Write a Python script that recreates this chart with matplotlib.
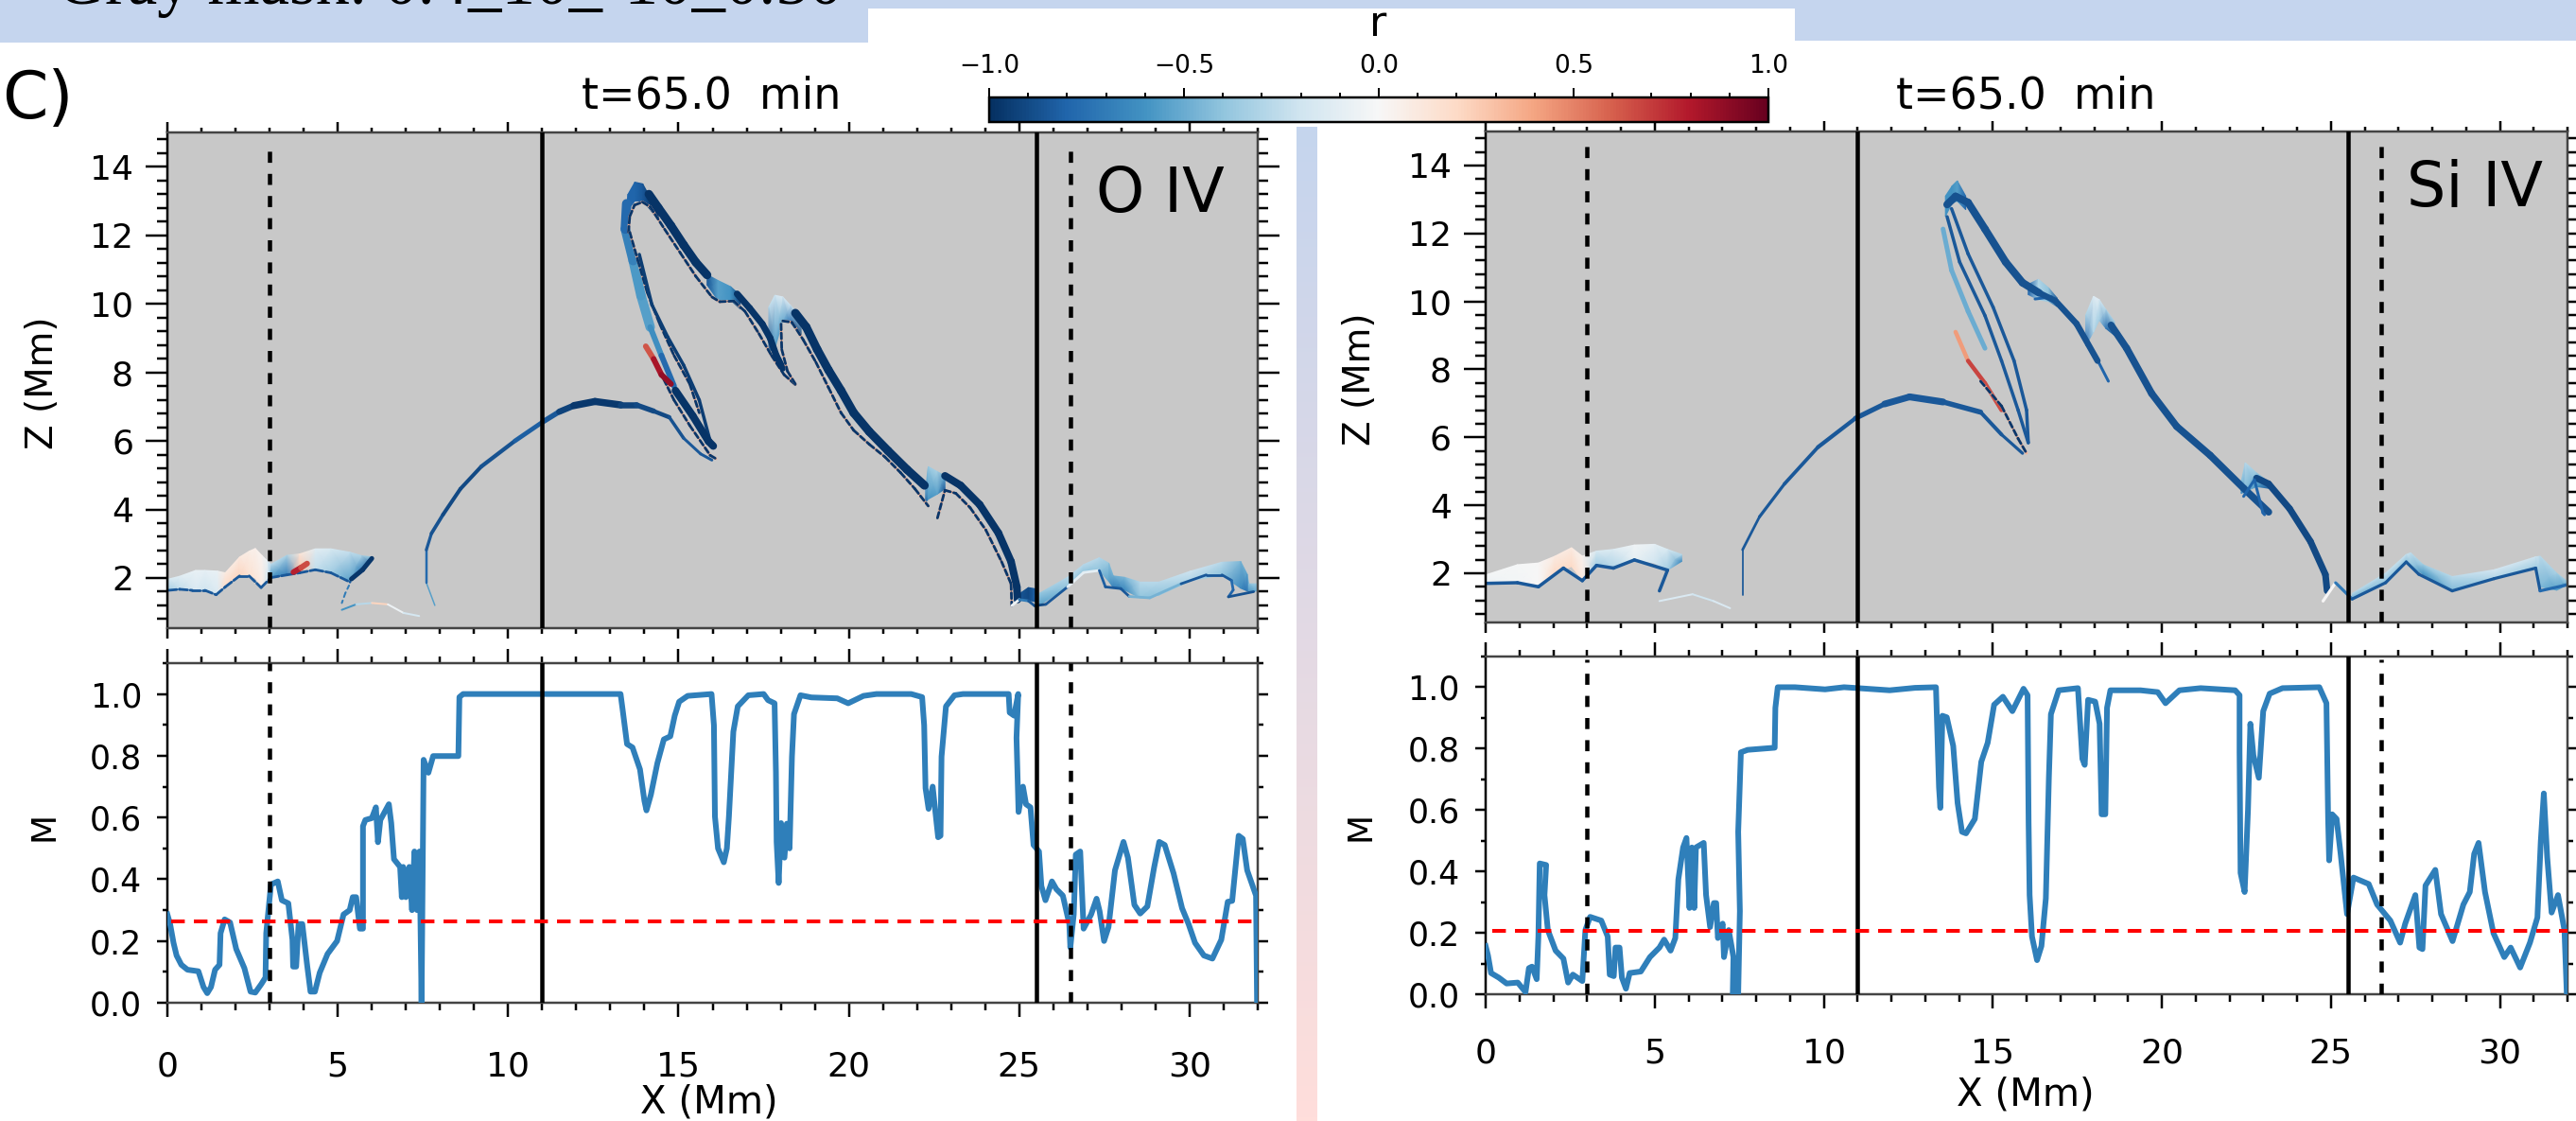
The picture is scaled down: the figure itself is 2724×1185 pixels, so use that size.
import numpy as np
import matplotlib
matplotlib.use('Agg')
import matplotlib.pyplot as plt
from matplotlib.cm import ScalarMappable
from matplotlib.collections import LineCollection
from matplotlib.colors import LinearSegmentedColormap, Normalize
from matplotlib.patches import Rectangle
from matplotlib.ticker import MultipleLocator

W, H = 2724, 1185
BLUE = '#c5d5ee'
GRAY = '#c8c8c8'
LINE = '#2f7fba'

# M curves, bottom panels
o4_m_x = [0, .08, .18, .27, .41, .59, .91, 1.06, 1.17, 1.28, 1.40, 1.53, 1.56, 1.68, 1.84, 2.02, 2.26, 2.44, 2.58, 2.76,
          2.88, 2.90, 3.04, 3.24, 3.36, 3.55, 3.67, 3.69, 3.78, 3.85, 3.96, 4.1, 4.2, 4.33, 4.47, 4.70, 4.98, 5.17, 5.35,
          5.44, 5.54, 5.65, 5.74, 5.74, 5.81, 6.0, 6.12, 6.18, 6.25, 6.5, 6.57, 6.65, 6.83, 6.88, 6.92, 7.0, 7.1, 7.18,
          7.25, 7.33, 7.4, 7.46, 7.52, 7.66, 7.8, 8.54, 8.57, 8.68, 13.30, 13.36, 13.49, 13.65, 13.87, 14.0, 14.06, 14.19,
          14.38, 14.57, 14.76, 14.89, 15.02, 15.27, 15.97, 16.04, 16.07, 16.16, 16.33, 16.42, 16.48, 16.61, 16.74, 17.05,
          17.5, 17.63, 17.82, 17.86, 17.88, 17.94, 18.01, 18.11, 18.18, 18.26, 18.33, 18.39, 18.58, 18.9, 19.66, 19.98,
          20.43, 20.81, 21.83, 22.15, 22.21, 22.25, 22.34, 22.46, 22.62, 22.69, 22.72, 22.85, 23.1, 23.35, 24.69, 24.72,
          24.85, 24.97, 24.92, 24.98, 25.11, 25.2, 25.33, 25.42, 25.58, 25.65, 25.77, 25.96, 26.09, 26.28, 26.47, 26.5,
          26.6, 26.66, 26.79, 26.89, 27.11, 27.27, 27.36, 27.49, 27.62, 27.81, 28.06, 28.19, 28.38, 28.55, 28.76, 28.96,
          29.11, 29.27, 29.53, 29.78, 29.97, 30.16, 30.42, 30.67, 30.93, 31.12, 31.25, 31.44, 31.56, 31.69, 31.95, 31.98]
o4_m_y = [.286, .255, .194, .153, .123, .107, .102, .051, .031, .051, .107, .123, .225, .27, .26, .174, .112, .036, .033,
          .061, .082, .225, .383, .393, .332, .322, .204, .117, .117, .255, .255, .123, .036, .036, .097, .158, .2, .286,
          .30, .342, .342, .24, .24, .572, .592, .598, .633, .52, .592, .643, .582, .465, .44, .342, .44, .342, .44, .30,
          .49, .30, .49, .0, .787, .745, .799, .799, .99, 1.0, 1.0, .95, .838, .827, .756, .654, .623, .674, .776, .853,
          .863, .93, .975, .994, 1.0, .899, .603, .50, .455, .50, .603, .878, .96, .996, 1.0, .98, .97, .746, .521, .388,
          .582, .47, .58, .50, .797, .935, .996, .989, .986, .97, .994, 1.0, 1.0, .99, .899, .695, .628, .70, .536, .541,
          .797, .96, .996, 1.0, 1.0, .94, .93, 1.0, .858, .618, .70, .643, .633, .511, .49, .378, .332, .393, .368, .347,
          .255, .179, .286, .48, .49, .24, .286, .337, .296, .2, .245, .429, .521, .47, .317, .289, .312, .439, .521, .511,
          .419, .306, .255, .194, .153, .143, .204, .327, .33, .541, .531, .429, .347, 0]

si4_m_x = [0, .07, .16, .39, .62, .95, 1.18, 1.28, 1.37, 1.51, 1.56, 1.60, 1.79, 1.74, 1.84, 2.07, 2.3, 2.44, 2.58, 2.86,
           2.95, 3.09, 3.42, 3.61, 3.67, 3.79, 3.84, 3.96, 4.03, 4.15, 4.26, 4.59, 4.86, 5.14, 5.28, 5.47, 5.61, 5.7, 5.84,
           5.94, 6.03, 6.1, 6.17, 6.22, 6.45, 6.52, 6.64, 6.75, 6.82, 6.87, 7.01, 7.05, 7.19, 7.33, 7.31, 7.47, 7.52, 7.47,
           7.55, 7.75, 8.55, 8.57, 8.64, 9.15, 10.04, 10.6, 11.02, 11.95, 12.7, 13.32, 13.41, 13.45, 13.51, 13.64, 13.83,
           13.96, 14.09, 14.21, 14.47, 14.66, 14.85, 15.04, 15.3, 15.58, 15.91, 16.03, 16.06, 16.09, 16.16, 16.31, 16.44,
           16.57, 16.66, 16.72, 16.95, 17.52, 17.65, 17.72, 17.82, 18.03, 18.16, 18.22, 18.33, 18.38, 18.48, 19.37, 19.88,
           20.11, 20.52, 21.15, 22.17, 22.3, 22.3, 22.33, 22.45, 22.55, 22.62, 22.71, 22.87, 23.0, 23.19, 23.57, 24.66,
           24.87, 24.92, 24.95, 25.04, 25.17, 25.29, 25.48, 25.67, 26.12, 26.37, 26.76, 27.05, 27.2, 27.5, 27.62, 27.71,
           27.8, 28.09, 28.26, 28.6, 28.92, 29.11, 29.24, 29.37, 29.56, 29.81, 30.13, 30.32, 30.6, 30.89, 31.11, 31.21,
           31.3, 31.4, 31.53, 31.72, 31.91, 31.98]
si4_m_y = [.157, .126, .069, .054, .035, .038, .007, .085, .09, .049, .188, .426, .421, .323, .209, .142, .116, .038, .064,
           .043, .209, .252, .24, .188, .064, .059, .152, .152, .054, .018, .069, .074, .121, .152, .178, .142, .183, .374,
           .478, .509, .281, .478, .281, .478, .493, .323, .219, .297, .297, .183, .23, .121, .209, .121, .002, 0, .271,
           .529, .788, .796, .803, .933, 1.0, 1.0, .993, 1.0, .997, .99, .998, 1.0, .674, .607, .907, .902, .809, .623, .529,
           .524, .571, .757, .819, .943, .969, .922, .995, .974, .56, .323, .188, .111, .157, .312, .705, .912, .99, .997,
           .767, .747, .959, .953, .881, .586, .586, .933, .99, .99, .984, .948, .99, .997, .99, .974, .788, .395, .333, .602,
           .881, .778, .705, .922, .979, .997, 1.0, .948, .571, .436, .586, .571, .457, .261, .38, .359, .292, .24, .168,
           .23, .323, .152, .147, .354, .405, .261, .173, .292, .333, .457, .493, .333, .199, .121, .152, .087, .168, .25,
           .498, .654, .447, .266, .323, .209, 0]

o4_threshold = 0.264
si4_threshold = 0.206
solid_x = [11.0, 25.5]
dashed_x = [3.0, 26.5]

# O IV strands: x, z (Mm) and r
o4_loop_light_x = [14.17, 13.9, 13.67, 13.44, 13.48]
o4_loop_light_z = [9.32, 10.24, 11.26, 12.18, 12.92]
o4_loop_light_r = [-.55, -.55, -.6, -.75, -.8]
o4_low_blue_x = [14.17, 14.5, 14.87]
o4_low_blue_z = [9.32, 8.49, 7.6]
o4_low_blue_r = [-.55, -.7, -.85]
o4_top_x = [14.13, 14.41, 14.78, 15.15, 15.51, 15.84]
o4_top_z = [13.2, 12.8, 12.28, 11.72, 11.21, 10.84]
o4_inner_x = [13.53, 13.57, 13.71, 13.94, 14.17, 14.59, 15.05, 15.51, 15.98, 16.21, 16.62, 16.95, 17.36, 17.73, 18.1, 18.43]
o4_inner_z = [12.09, 12.55, 12.88, 12.97, 12.83, 12.18, 11.49, 10.8, 10.2, 10.06, 10.08, 9.78, 9.13, 8.49, 7.93, 7.64]
o4_left_x = [13.57, 13.81, 14.08, 14.45, 14.87, 15.33, 15.61]
o4_left_z = [12.09, 11.26, 10.34, 9.41, 8.49, 7.66, 6.82]
o4_left2_x = [13.85, 14.22, 14.68, 15.15, 15.61, 15.93]
o4_left2_z = [11.44, 9.97, 9.04, 8.21, 7.19, 5.99]
o4_red_x = [14.04, 14.27, 14.5, 14.78]
o4_red_z = [8.76, 8.39, 7.93, 7.66]
o4_red_r = [.5, .75, .9, .85]
o4_wedge_x = [14.91, 15.42, 15.88, 16.02]
o4_wedge_z = [7.47, 6.73, 5.99, 5.85]
o4_wedge2_x = [14.45, 14.87, 15.33, 15.93, 16.1]
o4_wedge2_z = [8.03, 7.19, 6.45, 5.58, 5.48]
o4_arc_x = [7.85, 7.6, 7.6, 7.75, 8.09, 8.6, 9.21, 10.2, 11.01, 11.5, 11.93, 12.55, 13.3, 13.76, 14.27, 14.73, 15.15, 15.65, 15.98]
o4_arc_z = [1.2, 1.86, 2.82, 3.3, 3.85, 4.6, 5.25, 6.0, 6.55, 6.85, 7.03, 7.15, 7.05, 7.05, 6.87, 6.69, 6.08, 5.62, 5.44]
o4_arc_r = [-.4, -.7, -.85, -.85, -.9, -.9, -.9, -.85, -.8, -.9, -.95, -.98, -.95, -.9, -.9, -.9, -.85, -.85, -.85]
o4_arc_w = [1, 2, 3, 3.5, 4, 4, 4, 4.5, 5, 6, 7, 8, 7, 6, 5, 4, 3, 3, 3]
o4_shoulder_x = [16.72, 17.09, 17.46, 17.69, 17.87, 18.06]
o4_shoulder_z = [10.29, 9.87, 9.41, 9.0, 8.49, 8.12]
o4_desc_x = [18.43, 18.75, 19.07, 19.4, 19.77, 20.14, 20.6, 21.15, 21.71, 22.22]
o4_desc_z = [9.73, 9.32, 8.67, 8.07, 7.47, 6.82, 6.27, 5.71, 5.16, 4.7]
o4_in2_x = [18.06, 18.33, 18.66, 19.03, 19.4, 19.77, 20.14, 20.6, 21.06, 21.52, 21.94, 22.33]
o4_in2_z = [9.5, 9.46, 8.95, 8.3, 7.56, 6.82, 6.31, 5.9, 5.53, 5.07, 4.6, 4.1]
o4_in3_x = [22.6, 22.82, 23.14, 23.56, 24.02, 24.48, 24.76, 24.78]
o4_in3_z = [3.75, 4.56, 4.47, 4.05, 3.4, 2.48, 1.83, 1.19]
o4_ret_x = [18.01, 18.03, 18.2, 18.43]
o4_ret_z = [9.41, 8.67, 8.03, 7.66]
o4_desc2_x = [22.82, 23.28, 23.84, 24.39, 24.76, 24.93, 24.95]
o4_desc2_z = [4.98, 4.7, 4.14, 3.31, 2.48, 1.74, 1.37]
o4_foot_x = [24.78, 25.0, 25.27, 25.45, 25.78, 26.42, 26.89, 27.35, 27.53, 27.98, 28.23, 28.83, 29.75, 30.49, 30.95, 31.23, 31.28, 31.14, 31.88]
o4_foot_z = [1.19, 1.37, 1.33, 1.19, 1.23, 1.74, 2.16, 2.22, 1.74, 1.69, 1.46, 1.42, 1.83, 2.09, 2.09, 1.93, 1.65, 1.45, 1.6]
o4_foot_r = [.5, -.6, -.8, -.9, -.9, -.8, .6, -.8, -.85, -.85, -.85, -.1, -.85, -.85, -.85, -.85, -.7, -.9, -.85]
o4_chromo_x = [.04, .36, .73, 1.1, 1.43, 1.7, 2.12, 2.4, 2.75, 3.04, 3.51, 3.88, 4.34, 4.8, 5.36]
o4_chromo_z = [1.64, 1.67, 1.64, 1.64, 1.51, 1.74, 2.06, 2.06, 1.72, 2.01, 2.09, 2.15, 2.24, 2.15, 1.88]
o4_hot_x = [3.7, 3.92, 4.1]
o4_hot_z = [2.17, 2.3, 2.42]
o4_hot_r = [.75, .8, .5]
o4_spike_x = [5.4, 5.73, 6.0]
o4_spike_z = [1.97, 2.24, 2.57]
o4_stem_x = [5.33, 5.22, 5.12]
o4_stem_z = [1.78, 1.55, 1.27]
o4_lowarc_x = [5.12, 5.54, 6.0, 6.47, 6.93, 7.39]
o4_lowarc_z = [1.07, 1.23, 1.27, 1.23, .98, .89]
o4_lowarc_r = [-.7, -.5, -.05, .5, -.6, .25]

# O IV sheets: x stations, lower and upper z, r
o4_glow_x = [.04, .36, .83, 1.1, 1.47, 1.7, 2.12, 2.4, 2.58, 2.77, 2.95, 3.04, 3.51, 3.88, 4.34, 4.8, 5.36, 5.7, 6.0]
o4_glow_lo = [1.64, 1.67, 1.64, 1.64, 1.51, 1.74, 2.06, 2.06, 2.0, 1.72, 1.95, 2.01, 2.09, 2.15, 2.24, 2.15, 1.88, 2.24, 2.57]
o4_glow_hi = [1.97, 2.05, 2.22, 2.22, 2.2, 2.15, 2.61, 2.78, 2.86, 2.66, 2.48, 2.4, 2.66, 2.7, 2.85, 2.85, 2.75, 2.65, 2.61]
o4_glow_r = [-.35, -.25, -.15, -.2, -.15, .2, .22, .15, .12, .08, -.2, -.6, -.7, .3, -.25, -.35, -.55, -.7, -.9]
o4_band_x = [25.59, 26.42, 26.89, 27.35, 27.63, 27.76, 28.09, 28.55, 29.1, 30.03, 30.95, 31.5, 31.69, 31.74, 31.97]
o4_band_lo = [1.2, 1.74, 2.16, 2.22, 1.9, 1.72, 1.65, 1.42, 1.5, 1.92, 2.09, 1.7, 1.62, 1.6, 1.62]
o4_band_hi = [1.55, 2.02, 2.39, 2.59, 2.43, 2.06, 2.02, 1.88, 1.88, 2.2, 2.46, 2.48, 2.11, 1.83, 1.83]
o4_band_r = [-.55, -.4, -.4, -.4, -.55, -.7, -.65, -.4, -.4, -.3, -.4, -.65, -.75, -.6, -.5]
o4_foot_pool_x = [24.95, 25.27, 25.5]
o4_foot_pool_lo = [1.35, 1.35, 1.3]
o4_foot_pool_hi = [1.5, 1.72, 1.68]
o4_foot_pool_r = [-.85, -.9, -.8]
o4_crown_x = [13.44, 13.52, 13.72, 13.95, 14.17, 14.41]
o4_crown_lo = [12.2, 12.75, 13.0, 13.0, 12.75, 12.45]
o4_crown_hi = [12.4, 13.2, 13.55, 13.5, 13.1, 12.9]
o4_crown_r = [-.8, -.8, -.8, -.85, -.95, -.98]
o4_swell_x = [15.84, 16.16, 16.53, 16.81]
o4_swell_lo = [10.55, 10.1, 10.1, 9.85]
o4_swell_hi = [10.85, 10.68, 10.5, 10.25]
o4_swell_r = [-.85, -.55, -.6, -.9]
o4_hump_x = [17.65, 17.83, 18.06, 18.29, 18.6]
o4_hump_lo = [8.6, 8.7, 9.5, 9.45, 9.05]
o4_hump_hi = [9.9, 10.25, 10.2, 9.95, 9.6]
o4_hump_r = [-.9, -.6, -.5, -.75, -.97]
o4_hump3_x = [22.25, 22.33, 22.6, 22.82]
o4_hump3_lo = [4.2, 4.3, 4.45, 4.6]
o4_hump3_hi = [4.6, 5.25, 5.1, 4.98]
o4_hump3_r = [-.85, -.6, -.55, -.85]

# Si IV strands
si4_outer_x = [13.65, 13.9, 14.27, 14.77, 15.38, 15.88, 16.37]
si4_outer_z = [12.85, 13.09, 12.91, 12.13, 11.16, 10.55, 10.25]
si4_edge_x = [13.53, 13.78, 14.27, 14.77]
si4_edge_z = [12.13, 10.92, 9.71, 8.62]
si4_in1_x = [13.65, 14.02, 14.77, 15.26, 15.75, 16.05]
si4_in1_z = [12.49, 11.16, 9.58, 8.25, 6.8, 5.84]
si4_in2_x = [13.78, 14.27, 15.01, 15.63, 16.0, 16.05]
si4_in2_z = [12.73, 11.4, 9.83, 8.25, 6.8, 5.84]
si4_red_x = [13.9, 14.27, 14.77, 15.26]
si4_red_z = [9.1, 8.25, 7.59, 6.8]
si4_red_r = [.3, .55, .8, .5]
si4_wedge_x = [14.64, 15.26, 15.75, 16.0]
si4_wedge_z = [7.65, 6.92, 5.96, 5.53]
si4_arc_x = [7.6, 7.6, 8.1, 8.84, 9.83, 10.94, 11.8, 12.54, 13.53, 14.64, 15.26, 15.88]
si4_arc_z = [1.36, 2.69, 3.66, 4.63, 5.71, 6.56, 6.98, 7.19, 7.04, 6.74, 6.08, 5.53]
si4_arc_w = [1, 2.5, 3, 3.5, 4, 4.5, 6, 8, 6.5, 4.5, 3.5, 3]
si4_inner_x = [16.25, 16.74, 17.36, 17.98, 18.42]
si4_inner_z = [10.07, 10.13, 9.46, 8.5, 7.65]
si4_shoulder_x = [16.37, 16.86, 17.48, 18.1]
si4_shoulder_z = [10.25, 10.01, 9.34, 8.25]
si4_desc_x = [18.5, 18.96, 19.7, 20.44, 21.43, 22.42, 23.16]
si4_desc_z = [9.3, 8.62, 7.29, 6.32, 5.47, 4.5, 3.8]
si4_desc2_x = [22.8, 23.16, 23.78, 24.4, 24.84, 24.89]
si4_desc2_z = [4.8, 4.63, 3.9, 2.93, 1.96, 1.48]
si4_in3_x = [22.42, 22.74, 22.99, 23.04]
si4_in3_z = [4.26, 4.75, 3.78, 3.72]
si4_foot_x = [24.77, 25.14, 25.63, 26.62, 27.23, 27.6, 28.59, 29.83, 31.06, 31.19, 32.0]
si4_foot_z = [1.18, 1.72, 1.24, 1.72, 2.33, 1.97, 1.48, 1.84, 2.15, 1.48, 1.66]
si4_foot_r = [.6, -.6, -.85, -.85, -.85, -.85, -.85, -.85, -.85, -.85, -.7]
si4_chromo_x = [0, .94, 1.56, 2.3, 2.86, 3.28, 3.78, 4.4, 5.38, 5.14]
si4_chromo_z = [1.7, 1.72, 1.6, 2.15, 1.78, 2.23, 2.15, 2.39, 2.09, 1.48]
si4_lowarc_x = [5.14, 6.12, 6.74, 7.23]
si4_lowarc_z = [1.18, 1.38, 1.18, .97]
si4_lowarc_r = [-.6, .3, -.7, .4]

# Si IV sheets
si4_glow_x = [0, .94, 1.56, 2.05, 2.54, 2.86, 3.28, 3.78, 4.4, 5.0, 5.38, 5.8]
si4_glow_lo = [1.7, 1.72, 1.6, 2.0, 2.2, 1.8, 2.23, 2.15, 2.39, 2.3, 2.09, 2.35]
si4_glow_hi = [1.95, 2.25, 2.3, 2.5, 2.75, 2.5, 2.65, 2.7, 2.83, 2.85, 2.7, 2.55]
si4_glow_r = [-.05, -.03, 0, .2, .2, .1, -.35, -.3, -.08, -.2, -.35, -.65]
si4_band_x = [25.63, 26.62, 27.23, 27.36, 27.73, 28.59, 29.83, 31.06, 31.19, 31.68, 32]
si4_band_lo = [1.24, 1.72, 2.33, 2.2, 1.97, 1.48, 1.84, 2.15, 1.6, 1.5, 1.66]
si4_band_hi = [1.4, 2.0, 2.55, 2.6, 2.25, 1.9, 2.1, 2.48, 2.5, 2.0, 1.75]
si4_band_r = [-.5, -.4, -.4, -.4, -.6, -.45, -.3, -.35, -.45, -.55, -.6]
si4_crown_x = [13.6, 13.8, 13.95, 14.2]
si4_crown_lo = [12.5, 12.9, 12.95, 12.7]
si4_crown_hi = [13.1, 13.4, 13.55, 13.1]
si4_crown_r = [-.6, -.6, -.55, -.8]
si4_swell_x = [16.05, 16.35, 16.65, 16.9]
si4_swell_lo = [10.2, 10.05, 10.0, 9.85]
si4_swell_hi = [10.5, 10.65, 10.4, 10.1]
si4_swell_r = [-.8, -.3, -.4, -.85]
si4_hump_x = [17.75, 17.98, 18.15, 18.35, 18.6]
si4_hump_lo = [8.7, 9.1, 9.45, 9.2, 9.0]
si4_hump_hi = [9.6, 10.15, 10.05, 9.75, 9.4]
si4_hump_r = [-.8, -.3, -.35, -.75, -.87]
si4_hump3_x = [22.35, 22.47, 22.8, 23.15]
si4_hump3_lo = [4.35, 4.4, 4.55, 4.5]
si4_hump3_hi = [4.7, 5.25, 4.95, 4.7]
si4_hump3_r = [-.7, -.45, -.6, -.85]

cmap = plt.get_cmap('RdBu_r')
norm = Normalize(-1, 1)


def fax(x0, y0, x1, y1):
    return fig.add_axes([x0 / W, 1 - y1 / H, (x1 - x0) / W, (y1 - y0) / H])


def pt(px):
    return px * 0.72


def strand(ax, x, z, r, w, **kw):
    # r and w can be one number or one value per point, w is in pixels
    xy = np.column_stack([x, z])
    segs = np.stack([xy[:-1], xy[1:]], axis=1)
    r = np.broadcast_to(r, len(x)).astype(float)
    w = np.broadcast_to(w, len(x)).astype(float)
    lc = LineCollection(segs, colors=cmap(norm((r[:-1] + r[1:]) / 2)), linewidths=pt((w[:-1] + w[1:]) / 2),
                        capstyle='round', **kw)
    ax.add_collection(lc)


def sheet(ax, x, lo, hi, r, fade=1.0):
    # gouraud shaded ribbon between two edges, fade lightens the upper edge
    x = np.asarray(x, float)
    r = np.asarray(r, float)
    X = np.vstack([x, x])
    Z = np.vstack([lo, hi])
    ax.pcolormesh(X, Z, np.vstack([r, r * fade]), shading='gouraud', cmap=cmap, norm=norm)


def thread(ax, x, z, w=2.8):
    # the thin lines are dark with orange bits showing through
    strand(ax, x, z, .35, w)
    strand(ax, x, z, -.97, w, linestyles=[(0, (2.2, 1.2))])


def vlines(ax, top=None):
    for v in solid_x:
        ax.axvline(v, color='k', lw=pt(4.5), zorder=5)
    for v in dashed_x:
        ax.plot([v, v], [ax.get_ylim()[0], top], color='k', lw=pt(4.5), ls=(0, (2.6, 2.6)), zorder=5)


def style(ax, ymaj, ymin, xlen, ylen):
    ax.set_xlim(0, 32)
    ax.xaxis.set_major_locator(MultipleLocator(5))
    ax.xaxis.set_minor_locator(MultipleLocator(1))
    ax.yaxis.set_major_locator(MultipleLocator(ymaj))
    ax.yaxis.set_minor_locator(MultipleLocator(ymin))
    ax.tick_params(which='major', axis='x', top=True, direction='out', length=pt(xlen), width=pt(2.5))
    ax.tick_params(which='minor', axis='x', top=True, direction='out', length=pt(xlen / 2), width=pt(2.5))
    ax.tick_params(which='major', axis='y', right=True, direction='out', length=pt(ylen), width=pt(2.5))
    ax.tick_params(which='minor', axis='y', right=True, direction='out', length=pt(ylen / 2), width=pt(2.5))
    for s in ax.spines.values():
        s.set_linewidth(pt(2.5))
        s.set_color('#444444')
    ax.spines['left'].set_color('k')


def labels(ax, xtext, ytext, xpos, ypos, ysize):
    if xtext:
        ax.set_xlabel(xtext, fontsize=29, va='center', ha='center')
        ax.xaxis.set_label_coords(xpos[0] / W, 1 - xpos[1] / H, transform=fig.transFigure)
    ax.set_ylabel(ytext, fontsize=ysize, va='center', ha='center')
    ax.yaxis.set_label_coords(ypos[0] / W, 1 - ypos[1] / H, transform=fig.transFigure)


fig = plt.figure(figsize=(W / 100, H / 100), dpi=100, facecolor='white')

# slide background around the panels
for x0, x1, y1 in [(0, 918, 45), (918, 1898, 9), (1898, W, 43)]:
    fig.add_artist(Rectangle((x0 / W, 1 - y1 / H), (x1 - x0) / W, y1 / H, transform=fig.transFigure,
                             facecolor=BLUE, edgecolor='none', zorder=-5))
fig.text(60 / W, 1 - 4 / H, 'Gray mask: 0.4_10_-10_0.50', family='Liberation Serif', fontsize=51, va='baseline')

strip = fax(1371, 134, 1393, H)
strip.imshow(np.linspace(0, 1, 256)[:, None], aspect='auto',
             cmap=LinearSegmentedColormap.from_list('strip', [BLUE, '#ffdedb']))
strip.axis('off')

# O IV top panel
ax1 = fax(177, 140, 1330, 663.5)
ax1.set_facecolor(GRAY)
style(ax1, 2, .4, 11, 23)
sheet(ax1, o4_glow_x, o4_glow_lo, o4_glow_hi, o4_glow_r, fade=.45)
sheet(ax1, o4_band_x, o4_band_lo, o4_band_hi, o4_band_r, fade=.7)
sheet(ax1, o4_foot_pool_x, o4_foot_pool_lo, o4_foot_pool_hi, o4_foot_pool_r)
strand(ax1, o4_loop_light_x, o4_loop_light_z, o4_loop_light_r, 10)
strand(ax1, o4_low_blue_x, o4_low_blue_z, o4_low_blue_r, 6)
sheet(ax1, o4_crown_x, o4_crown_lo, o4_crown_hi, o4_crown_r)
strand(ax1, o4_top_x, o4_top_z, -.98, 9)
thread(ax1, o4_inner_x, o4_inner_z)
thread(ax1, o4_left_x, o4_left_z)
strand(ax1, o4_left2_x, o4_left2_z, -.95, 3.5)
strand(ax1, o4_wedge_x, o4_wedge_z, -.98, 8)
thread(ax1, o4_wedge2_x, o4_wedge2_z)
strand(ax1, o4_red_x, o4_red_z, o4_red_r, 6)
strand(ax1, o4_arc_x, o4_arc_z, o4_arc_r, o4_arc_w)
sheet(ax1, o4_swell_x, o4_swell_lo, o4_swell_hi, o4_swell_r)
strand(ax1, o4_shoulder_x, o4_shoulder_z, -.98, 7)
sheet(ax1, o4_hump_x, o4_hump_lo, o4_hump_hi, o4_hump_r, fade=.3)
strand(ax1, o4_desc_x, o4_desc_z, -.98, 9)
thread(ax1, o4_in2_x, o4_in2_z)
thread(ax1, o4_ret_x, o4_ret_z)
sheet(ax1, o4_hump3_x, o4_hump3_lo, o4_hump3_hi, o4_hump3_r, fade=.6)
strand(ax1, o4_desc2_x, o4_desc2_z, -.98, 8)
thread(ax1, o4_in3_x, o4_in3_z)
strand(ax1, o4_foot_x, o4_foot_z, o4_foot_r, 2.8)
strand(ax1, o4_chromo_x, o4_chromo_z, -.85, 2.8, linestyles=[(0, (3, 1))])
strand(ax1, o4_hot_x, o4_hot_z, o4_hot_r, 6)
strand(ax1, o4_spike_x, o4_spike_z, -.97, 5)
strand(ax1, o4_stem_x, o4_stem_z, -.7, 2, linestyles=[(0, (2, 2))])
strand(ax1, o4_lowarc_x, o4_lowarc_z, o4_lowarc_r, 2)
ax1.set_xlim(0, 32)
ax1.set_ylim(.55, 15)
vlines(ax1, top=14.75)
ax1.tick_params(axis='x', labelbottom=False)
ax1.tick_params(axis='y', labelsize=26, pad=pt(13))
ax1.text(1227 / W, 1 - 206 / H, 'O IV', transform=fig.transFigure, fontsize=47, ha='center', va='center', zorder=6)
labels(ax1, None, 'Z (Mm)', None, (45, 405), 28)

# O IV bottom panel
ax2 = fax(177, 701, 1330, 1060)
ax2.set_ylim(0, 1.1)
style(ax2, .2, .1, 15, 11)
ax2.plot(o4_m_x, o4_m_y, color=LINE, lw=pt(6), zorder=3)
ax2.plot([.1, 32], [o4_threshold, o4_threshold], color='red', lw=pt(4), ls=(0, (3.6, 2.4)), zorder=6)
vlines(ax2, top=1.1)
ax2.tick_params(axis='both', labelsize=25)
ax2.tick_params(axis='x', pad=pt(35), labelsize=26)
ax2.tick_params(axis='y', pad=pt(16))
labels(ax2, 'X (Mm)', 'M', (750, 1166), (46, 873), 26)

# Si IV top panel
ax3 = fax(1571, 139, 2715, 658)
ax3.set_facecolor(GRAY)
style(ax3, 2, .4, 11, 23)
sheet(ax3, si4_glow_x, si4_glow_lo, si4_glow_hi, si4_glow_r, fade=.45)
sheet(ax3, si4_band_x, si4_band_lo, si4_band_hi, si4_band_r, fade=.6)
sheet(ax3, si4_crown_x, si4_crown_lo, si4_crown_hi, si4_crown_r)
strand(ax3, si4_edge_x, si4_edge_z, -.5, 5)
strand(ax3, si4_outer_x, si4_outer_z, -.87, 8)
strand(ax3, si4_in1_x, si4_in1_z, -.85, 3.5)
strand(ax3, si4_in2_x, si4_in2_z, -.85, 3.5)
strand(ax3, si4_red_x, si4_red_z, si4_red_r, 4.5)
thread(ax3, si4_wedge_x, si4_wedge_z)
strand(ax3, si4_arc_x, si4_arc_z, -.85, si4_arc_w)
sheet(ax3, si4_swell_x, si4_swell_lo, si4_swell_hi, si4_swell_r)
strand(ax3, si4_inner_x, si4_inner_z, -.8, 3)
strand(ax3, si4_shoulder_x, si4_shoulder_z, -.87, 6.5)
sheet(ax3, si4_hump_x, si4_hump_lo, si4_hump_hi, si4_hump_r, fade=.4)
strand(ax3, si4_desc_x, si4_desc_z, -.87, 7.5)
sheet(ax3, si4_hump3_x, si4_hump3_lo, si4_hump3_hi, si4_hump3_r, fade=.6)
strand(ax3, si4_desc2_x, si4_desc2_z, -.9, 7)
strand(ax3, si4_in3_x, si4_in3_z, -.8, 3)
strand(ax3, si4_foot_x, si4_foot_z, si4_foot_r, 3.2)
strand(ax3, si4_chromo_x, si4_chromo_z, -.85, 3.5)
strand(ax3, si4_lowarc_x, si4_lowarc_z, si4_lowarc_r, 2)
ax3.set_xlim(0, 32)
ax3.set_ylim(.55, 15)
vlines(ax3, top=14.7)
ax3.tick_params(axis='x', labelbottom=False)
ax3.tick_params(axis='y', labelsize=26, pad=pt(13))
ax3.text(2617 / W, 1 - 200 / H, 'Si IV', transform=fig.transFigure, fontsize=47, ha='center', va='center', zorder=6)
labels(ax3, None, 'Z (Mm)', None, (1438, 401), 28)

# Si IV bottom panel
ax4 = fax(1571, 694, 2715, 1051)
ax4.set_ylim(0, 1.1)
style(ax4, .2, .1, 15, 11)
ax4.plot(si4_m_x, si4_m_y, color=LINE, lw=pt(6), zorder=3)
ax4.plot([.2, 32], [si4_threshold, si4_threshold], color='red', lw=pt(4), ls=(0, (3.6, 2.4)), zorder=6)
vlines(ax4, top=1.09)
ax4.tick_params(axis='both', labelsize=25)
ax4.tick_params(axis='x', pad=pt(31), labelsize=26)
ax4.tick_params(axis='y', pad=pt(16))
labels(ax4, 'X (Mm)', 'M', (2142, 1158), (1438, 873), 26)

# titles
fig.text(752 / W, 1 - 102 / H, 't=65.0  min', fontsize=33, ha='center', va='center')
fig.text(2142 / W, 1 - 102 / H, 't=65.0  min', fontsize=33, ha='center', va='center')
fig.text(40 / W, 1 - 106 / H, 'C)', fontsize=50, ha='center', va='center')

# colour bar
cax = fax(1046, 103, 1870, 129)
cb = fig.colorbar(ScalarMappable(norm=norm, cmap=cmap), cax=cax, orientation='horizontal')
cb.set_ticks([-1, -.5, 0, .5, 1])
cax.xaxis.set_minor_locator(MultipleLocator(.1))
cax.xaxis.set_ticks_position('top')
cax.tick_params(which='major', length=pt(10), width=pt(2), labelsize=19, pad=pt(10))
cax.tick_params(which='minor', length=pt(5), width=pt(2))
cb.outline.set_linewidth(pt(2.5))
fig.text(1457 / W, 1 - 26 / H, 'r', fontsize=32, ha='center', va='center')

fig.savefig('out.png', dpi=100)
